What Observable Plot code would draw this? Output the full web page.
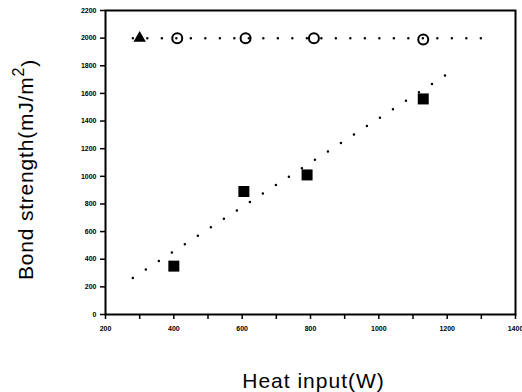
<!DOCTYPE html>
<html>
<head>
<meta charset="utf-8">
<script src="https://cdn.jsdelivr.net/npm/d3@7"></script>
<script src="https://cdn.jsdelivr.net/npm/@observablehq/plot@0.6"></script>
<style>
  html, body { margin: 0; padding: 0; background: #fff; }
  #chart { width: 522px; height: 392px; }
</style>
</head>
<body>
<div id="chart"></div>
<script>
// Data
const triX = [300];
const triY = [2000];
const circX = [410, 610, 810, 1130];
const circY = [2000, 2000, 2000, 1990];
const sqX = [400, 605, 790, 1130];
const sqY = [350, 890, 1010, 1560];
const fitX = [280, 1225];
const fitY = [265, 1780];
const refX = [280, 1340];
const refY = [2000, 2000];
const xTicks = d3.range(200, 1401, 100);
const xLabels = d3.range(200, 1401, 200);
const yTicks = d3.range(0, 2201, 200);

const zip = (xs, ys) => xs.map((x, i) => ({x, y: ys[i]}));

const plot = Plot.plot({
  width: 522,
  height: 392,
  marginLeft: 105,
  marginRight: 7,
  marginTop: 10,
  marginBottom: 78,
  style: {fontFamily: "Liberation Sans, Arial, sans-serif", background: "#fff", color: "#000"},
  x: {domain: [200, 1400]},
  y: {domain: [0, 2200]},
  marks: [
    Plot.axisX({ticks: xTicks, tickSize: 5, tickPadding: 7, strokeWidth: 1.5,
      tickFormat: d => xLabels.includes(d) ? String(d) : "", fontSize: 7, fontWeight: "bold", label: null}),
    Plot.axisY({ticks: yTicks, tickSize: 5, tickPadding: 4, strokeWidth: 1.5,
      tickFormat: d => String(d), fontSize: 7, fontWeight: "bold", label: null}),
    Plot.frame({strokeWidth: 2}),
    Plot.line(zip(refX, refY), {x: "x", y: "y", stroke: "#000", strokeWidth: 2.5,
      strokeDasharray: "0,14.5", strokeLinecap: "round"}),
    Plot.line(zip(fitX, fitY), {x: "x", y: "y", stroke: "#000", strokeWidth: 2.5,
      strokeDasharray: "0,15.5", strokeLinecap: "round"}),
    Plot.dot(zip(sqX, sqY), {x: "x", y: "y", symbol: "square", r: 6.2, fill: "#000"}),
    Plot.dot(zip(circX, circY), {x: "x", y: "y", symbol: "circle", r: 5, stroke: "#000", strokeWidth: 2, fill: "none"}),
    Plot.dot(zip(triX, triY), {x: "x", y: "y", symbol: "triangle", r: 4.6, fill: "#000"}),
    Plot.text(["Heat input(W)"], {frameAnchor: "bottom", dx: 3, dy: 67, fontSize: 21,
      textAnchor: "middle", lineAnchor: "middle", fill: "#000", className: "xlab"}),
    Plot.text(["Bond strength(mJ/m2)"], {frameAnchor: "left", dx: -79, dy: 7, rotate: -90, fontSize: 21,
      textAnchor: "middle", lineAnchor: "middle", fill: "#000", className: "ylab"})
  ]
});

d3.select(plot).selectAll(".xlab text").style("letter-spacing", "1px");
const yt = d3.select(plot).select(".ylab text");
yt.style("letter-spacing", "0.8px").text(null);
yt.append("tspan").text("Bond strength(mJ/m");
yt.append("tspan").attr("dy", "-0.55em").attr("font-size", "16").text("2");
yt.append("tspan").attr("dy", "0.55em").text(")");

document.getElementById("chart").appendChild(plot);
</script>
</body>
</html>
